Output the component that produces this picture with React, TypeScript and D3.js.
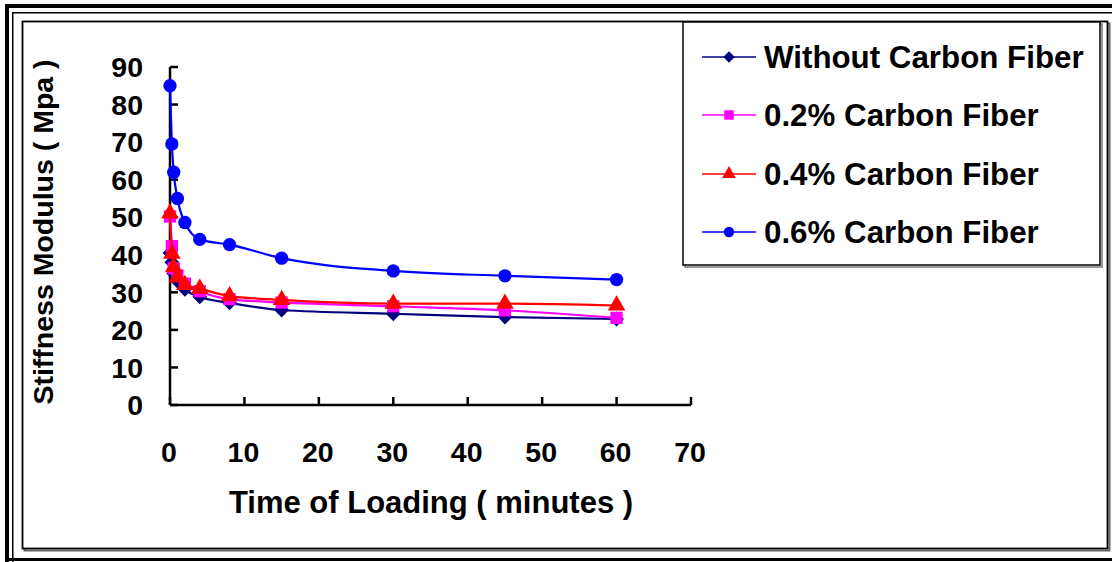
import * as d3 from 'd3';

// Time of loading (minutes)
const times = [0, 0.25, 0.5, 1, 2, 4, 8, 15, 30, 45, 60];

// Stiffness modulus (MPa) per fiber content
const withoutFiber = [40.5, 38, 35, 33, 30.8, 28.8, 27.2, 25.3, 24.3, 23.4, 22.9];
const fiber02 = [50.2, 42.3, 36.4, 34.5, 32.3, 30.3, 28.2, 27.3, 26.3, 25.2, 23.2];
const fiber04 = [51, 40.3, 36.7, 34, 32, 31, 29, 28, 27, 27, 26.5];
const fiber06 = [85, 69.5, 62, 55, 48.6, 44.1, 42.7, 39.1, 35.7, 34.4, 33.4];

const seriesNames = ['Without Carbon Fiber', '0.2% Carbon Fiber', '0.4% Carbon Fiber', '0.6% Carbon Fiber'];

const xTicks = [0, 10, 20, 30, 40, 50, 60, 70];
const yTicks = [0, 10, 20, 30, 40, 50, 60, 70, 80, 90];

const WIDTH = 1112;
const HEIGHT = 562;
const FONT = '"Liberation Sans", Arial, Helvetica, sans-serif';

type MarkerKind = 'diamond' | 'square' | 'triangle' | 'circle';

const SERIES: { name: string; values: number[]; color: string; marker: MarkerKind }[] = [
  { name: seriesNames[0], values: withoutFiber, color: '#000080', marker: 'diamond' },
  { name: seriesNames[1], values: fiber02, color: '#FF00FF', marker: 'square' },
  { name: seriesNames[2], values: fiber04, color: '#FF0000', marker: 'triangle' },
  { name: seriesNames[3], values: fiber06, color: '#0000FF', marker: 'circle' },
];

// marker path, big for the plot, small for the legend
function markerPath(kind: MarkerKind, small: boolean): string {
  const s = small ? 0.6 : 1;
  if (kind === 'circle') return d3.symbol(d3.symbolCircle, 140 * s)() ?? '';
  if (kind === 'square') return d3.symbol(d3.symbolSquare, 150 * s)() ?? '';
  if (kind === 'triangle') return d3.symbol(d3.symbolTriangle, 135 * s)() ?? '';
  return d3.symbol(d3.symbolSquare, 110 * s)() ?? '';
}

export default function App() {
  const x = d3.scaleLinear().domain([0, 70]).range([170, 691]);
  const y = d3.scaleLinear().domain([0, 90]).range([405, 67]);

  const line = d3
    .line<number>()
    .x((_, i) => x(times[i]))
    .y((d) => y(d))
    .curve(d3.curveMonotoneX);

  const legendRows = [57, 115, 174, 232];

  return (
    <div style={{ position: 'absolute', left: 0, top: 0 }}>
      <svg width={WIDTH} height={HEIGHT} viewBox={`0 0 ${WIDTH} ${HEIGHT}`} style={{ display: 'block', background: '#fff' }}>
        {/* outer double frame */}
        <rect x={5} y={4} width={WIDTH} height={4} fill="#000" />
        <rect x={5} y={4} width={4} height={HEIGHT} fill="#000" />
        <rect x={12} y={12} width={WIDTH} height={1.5} fill="#000" />
        <rect x={12} y={12} width={1.5} height={HEIGHT} fill="#000" />
        <rect x={5} y={558} width={WIDTH} height={3} fill="#000" />

        {/* chart area frame with shadow */}
        <rect x={24.5} y={23.5} width={1085} height={527} fill="none" stroke="#666" strokeWidth={2} />
        <rect x={22.5} y={21.5} width={1085} height={527} fill="#fff" stroke="#000" strokeWidth={1.8} />

        {/* axes */}
        <g stroke="#000" strokeWidth={2.5}>
          <line x1={x(0)} x2={x(0)} y1={y(90)} y2={y(0)} />
          <line x1={x(0)} x2={x(70)} y1={y(0)} y2={y(0)} />
          {yTicks.map((t) => (
            <line key={`yt${t}`} x1={x(0)} x2={x(0) + 8} y1={y(t)} y2={y(t)} />
          ))}
          {xTicks.map((t) => (
            <line key={`xt${t}`} x1={x(t)} x2={x(t)} y1={y(0)} y2={y(0) - 8} />
          ))}
        </g>

        <g fontFamily={FONT} fontWeight="bold" fontSize={28.5} fill="#000">
          {yTicks.map((t) => (
            <text key={`yl${t}`} x={143} y={y(t)} dy="0.36em" textAnchor="end">
              {t}
            </text>
          ))}
          {xTicks.map((t) => (
            <text key={`xl${t}`} x={x(t) - 1} y={462} textAnchor="middle">
              {t}
            </text>
          ))}
          <text transform="translate(53,232) rotate(-90)" textAnchor="middle">
            Stiffness Modulus ( Mpa )
          </text>
          <text x={431} y={513} textAnchor="middle" fontSize={31}>
            Time of Loading ( minutes )
          </text>
        </g>

        {/* series */}
        {SERIES.map((s) => (
          <g key={s.name}>
            <path d={line(s.values) ?? ''} fill="none" stroke={s.color} strokeWidth={2.2} />
            {s.values.map((v, i) => (
              <path
                key={i}
                d={markerPath(s.marker, false)}
                transform={`translate(${x(times[i])},${y(v)})${s.marker === 'diamond' ? ' rotate(45)' : ''}`}
                fill={s.color}
              />
            ))}
          </g>
        ))}

        {/* legend */}
        <rect x={685} y={24} width={417} height={243} fill="none" stroke="#777" strokeWidth={1.5} />
        <rect x={683} y={22} width={417} height={243} fill="#fff" stroke="#000" strokeWidth={1.5} />
        {SERIES.map((s, i) => (
          <g key={`lg${s.name}`} transform={`translate(0,${legendRows[i]})`}>
            <line x1={702} x2={756} y1={0} y2={0} stroke={s.color} strokeWidth={1.5} />
            <path
              d={markerPath(s.marker, true)}
              transform={`translate(729,0)${s.marker === 'diamond' ? ' rotate(45)' : ''}`}
              fill={s.color}
            />
            <text x={764} y={0} dy="0.36em" fontFamily={FONT} fontWeight="bold" fontSize={31.3} fill="#000">
              {s.name}
            </text>
          </g>
        ))}
      </svg>
    </div>
  );
}
